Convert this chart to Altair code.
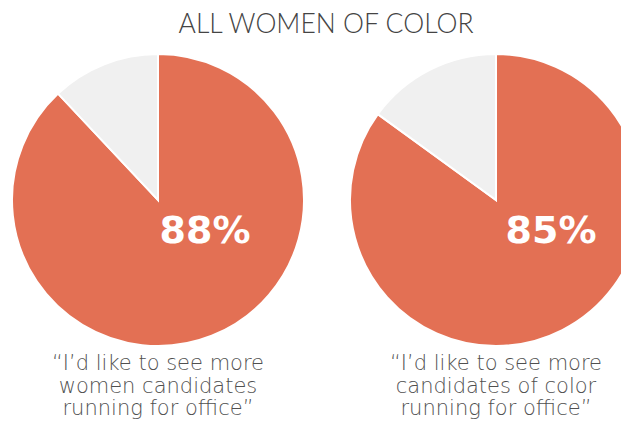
import math
import altair as alt
import pandas as pd

# ---- data ----
groups = ["women", "color"]
support = [88, 85]
pct_labels = ["88%", "85%"]
captions = [
    "“I’d like to see more\nwomen candidates\nrunning for office”",
    "“I’d like to see more\ncandidates of color\nrunning for office”",
]
title_text = "ALL WOMEN OF COLOR"

rows = []
for g, s, lab, cap in zip(groups, support, pct_labels, captions):
    rows.append(dict(group=g, segment="yes", value=s, order=0, label=lab, caption=cap))
    rows.append(dict(group=g, segment="no", value=100 - s, order=1, label=lab, caption=cap))
df = pd.DataFrame(rows)

ORANGE = "#E37054"
GREY = "#F0F0F0"

xscale = alt.Scale(type="point", domain=groups, range=[150, 488], padding=0)
X = alt.X("group:N", scale=xscale, axis=None)
CY = 192

base = (
    alt.Chart(df)
    .transform_window(end="sum(value)", groupby=["group"], sort=[alt.SortField("order")])
    .transform_calculate(start="datum.end - datum.value")
)

arcs = base.mark_arc(outerRadius=146, stroke="white", strokeWidth=2).encode(
    x=X,
    y=alt.value(CY),
    theta=alt.Theta("start:Q", scale=alt.Scale(domain=[0, 100], range=[0, 2 * math.pi])),
    theta2="end:Q",
    color=alt.Color("segment:N", scale=alt.Scale(domain=["yes", "no"], range=[ORANGE, GREY]), legend=None),
)

layers = [arcs]
pct_dx = [47, 55]
for g, dx in zip(groups, pct_dx):
    layers.append(
        base.transform_filter(f"datum.group == '{g}' && datum.segment == 'yes'")
        .mark_text(font="DejaVu Sans", fontWeight="bold", fontSize=38, color="white",
                   align="center", baseline="alphabetic", dx=dx)
        .encode(x=X, y=alt.value(235), text="label:N")
    )

layers.append(
    base.transform_filter("datum.segment == 'yes'")
    .mark_text(font="DejaVu Sans", fontWeight=200, fontSize=21, color="#505050",
               align="center", baseline="alphabetic", lineBreak="\n", lineHeight=22.5)
    .encode(x=X, y=alt.value(362), text="caption:N")
)

title_df = pd.DataFrame({"t": [title_text]})
layers.append(
    alt.Chart(title_df)
    .mark_text(font="Lato", fontWeight=300, fontSize=26.5, color="#444444",
               align="center", baseline="alphabetic")
    .encode(x=alt.value(318), y=alt.value(25), text="t:N")
)

chart = (
    alt.layer(*layers)
    .properties(width=613, height=414, padding=0, autosize=alt.AutoSizeParams(type="none"))
    .configure_view(stroke=None)
)

chart.save("out.html", embed_options={"renderer": "svg", "actions": False})
